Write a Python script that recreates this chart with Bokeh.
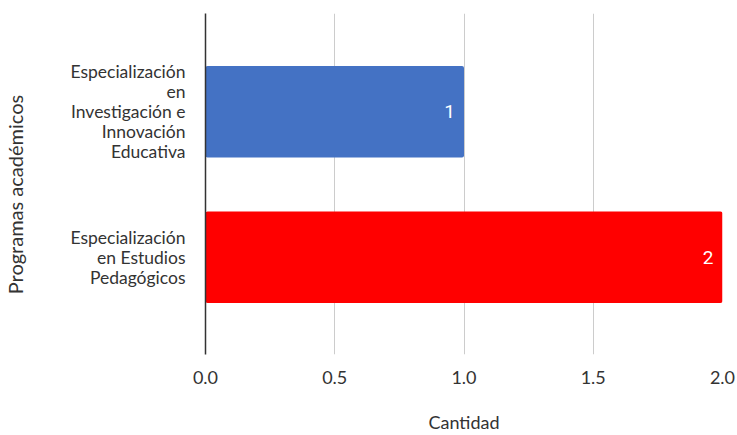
import math
from bokeh.plotting import figure
from bokeh.layouts import row
from bokeh.models import Range1d, FixedTicker, ColumnDataSource, Label
from bokeh.embed import file_html
from bokeh.resources import INLINE
from bokeh.core.properties import value

categories = [
    "Especialización\nen\nInvestigación e\nInnovación\nEducativa",
    "Especialización\nen Estudios\nPedagógicos",
]
values = [1, 2]
colors = ["#4472C4", "#FF0000"]
x_ticks = [0.0, 0.5, 1.0, 1.5, 2.0]
x_title = "Cantidad"
y_title = "Programas académicos"

FONT = "Lato"
H = 435
TW = 30  # width of the strip carrying the vertical axis title

n = len(categories)
ypos = [n - 1 - i for i in range(n)]
src = ColumnDataSource(dict(y=ypos, v=values, c=colors, lbl=[str(v) for v in values]))

# strip with the vertical axis title (pixel-unit ranges)
t = figure(width=TW, height=H, output_backend="svg", toolbar_location=None,
           x_range=Range1d(0, TW), y_range=Range1d(0, H),
           x_axis_type=None, y_axis_type=None, min_border=0)
t.outline_line_color = None
t.grid.visible = False
t.add_layout(Label(x=14, y=204, text=y_title, angle=math.pi / 2,
                   text_align="center", text_baseline="middle",
                   text_font=FONT, text_font_size="20px", text_color="#333333"))

p = figure(width=737 - TW, height=H, output_backend="svg", toolbar_location=None,
           x_range=Range1d(0, 2), y_range=Range1d(-0.668, 1.675),
           min_border_left=205 - TW, min_border_right=15, min_border_top=13,
           min_border_bottom=80)
p.outline_line_color = None

p.hbar(y="y", right="v", left=0, height=0.63, color="c", source=src,
       line_color=None, border_radius=2)
p.text(x="v", y="y", text="lbl", source=src, x_offset=-9, text_align="right",
       text_baseline="middle", text_color="white", text_font_size="19px",
       text_font=value("Roboto"))

p.xaxis.ticker = FixedTicker(ticks=x_ticks)
p.xaxis.major_label_overrides = {v: f"{v:.1f}" for v in x_ticks}
p.xaxis.axis_line_color = None
p.xaxis.major_tick_line_color = None
p.xaxis.minor_tick_line_color = None
p.xaxis.major_label_standoff = 10
p.xaxis.major_label_text_font = FONT
p.xaxis.major_label_text_font_size = "18px"
p.xaxis.major_label_text_color = "#333333"
p.xaxis.axis_label = x_title
p.xaxis.axis_label_text_font = FONT
p.xaxis.axis_label_text_font_size = "18px"
p.xaxis.axis_label_text_font_style = "normal"
p.xaxis.axis_label_text_color = "#333333"
p.xaxis.axis_label_standoff = 24

p.yaxis.ticker = FixedTicker(ticks=ypos)
p.yaxis.major_label_overrides = {y: c for y, c in zip(ypos, categories)}
p.yaxis.axis_line_color = "#333333"
p.yaxis.axis_line_width = 1.5
p.yaxis.major_tick_line_color = None
p.yaxis.minor_tick_line_color = None
p.yaxis.major_label_standoff = 14
p.yaxis.major_label_text_font = FONT
p.yaxis.major_label_text_font_size = "17.5px"
p.yaxis.major_label_text_line_height = 0.95
p.yaxis.major_label_text_color = "#333333"

p.xgrid.grid_line_color = "#cccccc"
p.xgrid.grid_line_width = 1
p.ygrid.grid_line_color = None

layout = row(t, p, spacing=0)
open("out.html", "w").write(file_html(layout, INLINE))
